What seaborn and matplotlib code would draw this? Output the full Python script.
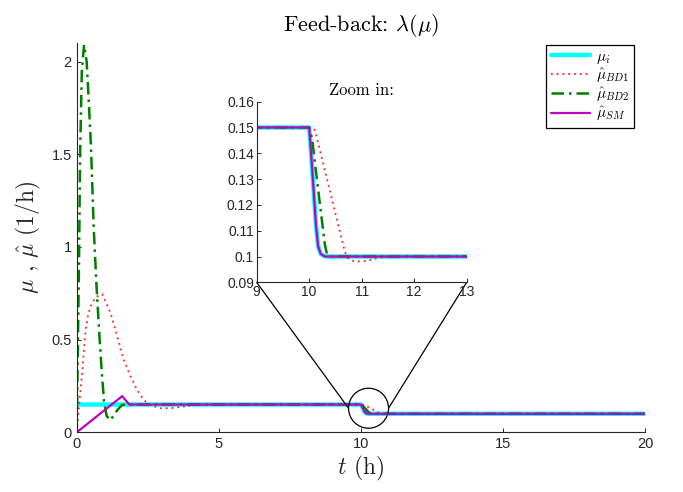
import numpy as np
import pandas as pd
import matplotlib
matplotlib.use("Agg")
import matplotlib.pyplot as plt
import seaborn as sns
from matplotlib.patches import Ellipse, ConnectionPatch

# ---------------- data ----------------
t_mu_i = [0, 10.0, 10.03, 10.08, 10.13, 10.17, 10.22, 10.3, 20]
mu_i = [0.15, 0.15, 0.142, 0.127, 0.112, 0.104, 0.101, 0.1, 0.1]

t_bd1 = [0, 0.1, 0.2, 0.31, 0.4, 0.49, 0.67, 0.9, 1.2, 1.43, 1.66, 1.9, 2.13,
         2.37, 2.6, 2.95, 3.3, 3.66, 4.0, 4.5, 10.0, 10.11, 10.2, 10.3, 10.4,
         10.5, 10.6, 10.68, 10.75, 10.85, 11.0, 11.15, 11.3, 11.45, 20]
bd1 = [0, 0.17, 0.335, 0.55, 0.63, 0.68, 0.73, 0.745, 0.64, 0.515, 0.39, 0.3,
       0.227, 0.173, 0.146, 0.13, 0.13, 0.137, 0.145, 0.15, 0.15, 0.149, 0.1416,
       0.1333, 0.125, 0.1167, 0.1084, 0.1017, 0.099, 0.0982, 0.098, 0.0986,
       0.0994, 0.1, 0.1]

t_bd2 = [0, 0.04, 0.08, 0.12, 0.18, 0.26, 0.35, 0.42, 0.5, 0.6, 0.7, 0.8, 0.88,
         0.96, 1.05, 1.17, 1.3, 1.43, 1.6, 1.75, 10.0, 10.03, 10.06, 10.1, 10.2,
         10.3, 10.34, 10.4, 20]
bd2 = [0, 0.45, 0.9, 1.5, 1.95, 2.09, 2.0, 1.8, 1.55, 1.1, 0.78, 0.52, 0.33,
       0.17, 0.09, 0.065, 0.09, 0.12, 0.148, 0.15, 0.15, 0.148, 0.145, 0.138,
       0.121, 0.1045, 0.1008, 0.1, 0.1]

t_sm = [0, 1.6, 1.85, 10.0, 10.03, 10.08, 10.13, 10.17, 10.22, 10.3, 20]
sm = [0, 0.195, 0.15, 0.15, 0.142, 0.127, 0.112, 0.104, 0.101, 0.1, 0.1]

labels = [r"$\mu_i$", r"$\hat{\mu}_{BD1}$", r"$\hat{\mu}_{BD2}$", r"$\hat{\mu}_{SM}$"]

main_xticks = [0, 5, 10, 15, 20]
main_yticks = [0, 0.5, 1, 1.5, 2]
main_yticklabels = ["0", "0.5", "1", "1.5", "2"]
zoom_xticks = [9, 10, 11, 12, 13]
zoom_yticks = [0.09, 0.10, 0.11, 0.12, 0.13, 0.14, 0.15, 0.16]
zoom_yticklabels = ["0.09", "0.1", "0.11", "0.12", "0.13", "0.14", "0.15", "0.16"]

zoom_center = (10.27, 0.13)  # circle marking the zoomed region

# ---------------- style ----------------
sns.set_theme(style="white")
plt.rcParams.update({
    "font.family": ["Liberation Sans", "DejaVu Sans"],
    "mathtext.fontset": "cm",
    "xtick.direction": "in",
    "ytick.direction": "in",
    "xtick.major.size": 3,
    "ytick.major.size": 3,
    "xtick.major.width": 0.7,
    "ytick.major.width": 0.7,
    "xtick.bottom": True,
    "ytick.left": True,
    "axes.edgecolor": "#262626",
    "axes.linewidth": 0.8,
    "xtick.color": "#262626",
    "ytick.color": "#262626",
    "text.color": "black",
})

styles = [
    dict(color="#00FFFF", lw=3.2, linestyle="-"),
    dict(color="#FF2020", lw=1.3, linestyle=(0, (1, 2.2))),
    dict(color="#008000", lw=1.8, linestyle=(0, (5, 2, 1, 2))),
    dict(color="#BF00BF", lw=1.6, linestyle="-"),
]
series = [(t_mu_i, mu_i), (t_bd1, bd1), (t_bd2, bd2), (t_sm, sm)]

W, H = 683, 492
fig = plt.figure(figsize=(W / 100, H / 100), dpi=100)
ax = fig.add_axes([0.1123, 0.1213, 0.8321, 0.7913])
axin = fig.add_axes([0.3758, 0.4262, 0.3075, 0.3671])

for a in (ax, axin):
    for (tt, vv), st, lab in zip(series, styles, labels):
        df = pd.DataFrame({"t": tt, "v": vv})
        sns.lineplot(data=df, x="t", y="v", ax=a, estimator=None, sort=False,
                     label=lab if a is ax else None, **st)
    a.spines["top"].set_visible(False)
    a.spines["right"].set_visible(False)
    a.set_facecolor("white")

# main axes
ax.set_xlim(0, 20)
ax.set_ylim(0, 2.1)
ax.set_xticks(main_xticks)
ax.set_xticklabels([str(v) for v in main_xticks], fontsize=10.5)
ax.set_yticks(main_yticks)
ax.set_yticklabels(main_yticklabels, fontsize=10.5)
ax.set_xlabel(r"$t$ (h)", fontfamily="cmr10", fontsize=17, labelpad=2)
ax.set_ylabel(r"$\mu$ , $\hat{\mu}$ (1/h)", fontfamily="cmr10", fontsize=17, labelpad=6)
ax.set_title(r"Feed-back: $\lambda(\mu)$", fontfamily="cmr10", fontsize=16, pad=9)

# inset axes
axin.set_xlim(9, 13)
axin.set_ylim(0.09, 0.16)
axin.set_xticks(zoom_xticks)
axin.set_xticklabels([str(v) for v in zoom_xticks], fontsize=10)
axin.set_yticks(zoom_yticks)
axin.set_yticklabels(zoom_yticklabels, fontsize=10)
axin.tick_params(pad=2)
axin.set_xlabel("")
axin.set_ylabel("")
axin.set_title("Zoom in:", fontfamily="cmr10", fontsize=12, pad=5)
axin.set_zorder(3)

# legend
leg = ax.legend(loc="upper left", bbox_to_anchor=(546 / W, 1 - 45 / H),
                bbox_transform=fig.transFigure, fontsize=11, frameon=True,
                fancybox=False, edgecolor="black", framealpha=1,
                handlelength=2.6, handletextpad=0.35, labelspacing=0.05,
                borderpad=0.3, borderaxespad=0)
leg.get_frame().set_linewidth(0.9)

# circle + connecting lines
r_px = 20
ax_w_px = 0.8321 * W
ax_h_px = 0.7913 * H
rx = r_px / (ax_w_px / 20)
ry = r_px / (ax_h_px / 2.1)
circ = Ellipse(zoom_center, width=2 * rx, height=2 * ry, fill=False,
               ec="black", lw=0.9, transform=ax.transData, zorder=5)
ax.add_patch(circ)
for corner, xb in [((0, 0), zoom_center[0] - rx), ((1, 0), zoom_center[0] + rx)]:
    con = ConnectionPatch(xyA=corner, coordsA=axin.transAxes,
                          xyB=(xb, zoom_center[1]), coordsB=ax.transData,
                          color="black", lw=0.9)
    fig.add_artist(con)

fig.savefig("out.png", dpi=100)
